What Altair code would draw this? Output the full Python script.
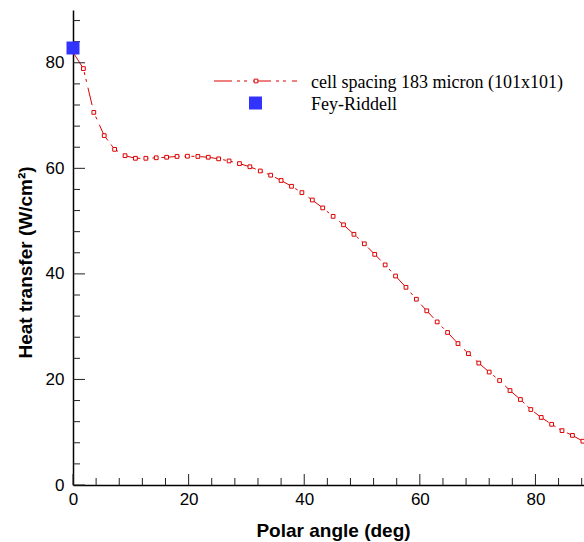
import altair as alt
import pandas as pd

# ---- data ----
angle = [0.0, 1.8, 3.6, 5.4, 7.2, 9.0, 10.8, 12.6, 14.4, 16.2, 18.0, 19.8, 21.6, 23.4,
         25.2, 27.0, 28.8, 30.6, 32.4, 34.2, 36.0, 37.8, 39.6, 41.4, 43.2, 45.0, 46.8,
         48.6, 50.4, 52.2, 54.0, 55.8, 57.6, 59.4, 61.2, 63.0, 64.8, 66.6, 68.4, 70.2,
         72.0, 73.8, 75.6, 77.4, 79.2, 81.0, 82.8, 84.6, 86.4, 88.2, 90.0]
heat = [82.0, 78.9, 70.6, 66.2, 63.6, 62.4, 61.9, 61.9, 62.0, 62.1, 62.25, 62.3, 62.25, 62.1,
        61.8, 61.4, 60.9, 60.3, 59.5, 58.7, 57.7, 56.6, 55.4, 54.0, 52.5, 50.9, 49.3,
        47.5, 45.7, 43.7, 41.7, 39.6, 37.45, 35.2, 33.0, 30.9, 28.9, 26.8, 24.9, 23.1,
        21.4, 19.8, 17.9, 16.2, 14.3, 12.8, 11.5, 10.3, 9.4, 8.3, 7.5]

fey_angle = [0.0]
fey_heat = [82.8]

x_major = [0, 20, 40, 60, 80]
x_minor = [4, 8, 12, 16, 24, 28, 32, 36, 44, 48, 52, 56, 64, 68, 72, 76, 84, 88]
y_major = [0, 20, 40, 60, 80]
y_minor = [4, 8, 12, 16, 24, 28, 32, 36, 44, 48, 52, 56, 64, 68, 72, 76, 84, 88]

series_label = "cell spacing 183 micron (101x101)"
exp_label = "Fey-Riddell"

# ---- styling ----
RED = "#dd0000"
BLUE = "#3333ff"
W, H = 511, 475
DASH = [18, 5, 3, 4, 3, 6]
SANS = "Liberation Sans"
SERIF = "Liberation Serif"

xscale = alt.Scale(domain=[0, 88.4], nice=False, zero=False)
yscale = alt.Scale(domain=[0, 90], nice=False, zero=False)

df = pd.DataFrame({"angle": angle, "heat": heat})
fey = pd.DataFrame({"angle": fey_angle, "heat": fey_heat})

x_axis = alt.Axis(values=x_major, ticks=False, grid=False, domainColor="black",
                  domainWidth=1.5, labelFont=SANS, labelFontSize=17, labelColor="black",
                  labelPadding=6, labelFlush=False, title="Polar angle (deg)",
                  titleFont=SANS, titleFontSize=19, titleFontWeight="bold",
                  titleColor="black", titleX=260, titleY=51, titleAlign="center",
                  titleBaseline="alphabetic")
y_axis = alt.Axis(values=y_major, ticks=False, grid=False, domainColor="black",
                  domainWidth=1.5, labelFont=SANS, labelFontSize=17, labelColor="black",
                  labelPadding=9, labelFlush=False, title="Heat transfer (W/cm²)",
                  titleFont=SANS, titleFontSize=19, titleFontWeight="bold",
                  titleColor="black", titleX=-48, titleY=252, titleAngle=-90,
                  titleAlign="center", titleBaseline="middle")

X = lambda f: alt.X(f, scale=xscale, axis=x_axis)
Y = lambda f: alt.Y(f, scale=yscale, axis=y_axis)

line = alt.Chart(df).mark_line(color=RED, strokeWidth=1, strokeDash=DASH, clip=True).encode(
    x=X("angle:Q"), y=Y("heat:Q"))
pts = alt.Chart(df).mark_point(shape="square", size=14, filled=False, fill="white",
                               fillOpacity=1, stroke=RED, strokeWidth=1, opacity=1,
                               clip=True).encode(x=X("angle:Q"), y=Y("heat:Q"))
fey_mark = alt.Chart(fey).mark_square(size=169, color=BLUE, opacity=1).encode(
    x=X("angle:Q"), y=Y("heat:Q"))

def xticks(vals, length):
    return alt.Chart(pd.DataFrame({"angle": vals})).mark_rule(color="#222", strokeWidth=1).encode(
        x=X("angle:Q"), y=alt.value(H), y2=alt.value(H - length))

def yticks(vals, length):
    return alt.Chart(pd.DataFrame({"heat": vals})).mark_rule(color="#222", strokeWidth=1).encode(
        y=Y("heat:Q"), x=alt.value(0), x2=alt.value(length))

one = pd.DataFrame({"k": [0]})
leg_line = alt.Chart(one).mark_rule(color=RED, strokeWidth=1, strokeDash=DASH).encode(
    x=alt.value(141), x2=alt.value(224), y=alt.value(71))
leg_pt = alt.Chart(one).mark_point(shape="square", size=14, filled=False, fill="white",
                                   fillOpacity=1, stroke=RED, strokeWidth=1, opacity=1).encode(
    x=alt.value(183), y=alt.value(71))
leg_sq = alt.Chart(one).mark_square(size=169, color=BLUE, opacity=1).encode(
    x=alt.value(182.5), y=alt.value(93))
leg_t1 = alt.Chart(one).mark_text(text=series_label, align="left", baseline="alphabetic",
                                  font=SERIF, fontSize=18, color="black").encode(
    x=alt.value(238), y=alt.value(78))
leg_t2 = alt.Chart(one).mark_text(text=exp_label, align="left", baseline="alphabetic",
                                  font=SERIF, fontSize=18, color="black").encode(
    x=alt.value(238), y=alt.value(99.5))

chart = alt.layer(
    line, pts,
    xticks(x_major, 11), xticks(x_minor, 7), yticks(y_major, 12), yticks(y_minor, 7),
    fey_mark, leg_line, leg_pt, leg_sq, leg_t1, leg_t2,
).properties(
    width=W, height=H,
    autosize=alt.AutoSizeParams(type="none"),
    padding={"left": 73, "top": 10, "right": 0, "bottom": 57},
    background="white",
).configure_view(stroke=None)

chart.save("out.html", embed_options={"renderer": "svg", "actions": False})
